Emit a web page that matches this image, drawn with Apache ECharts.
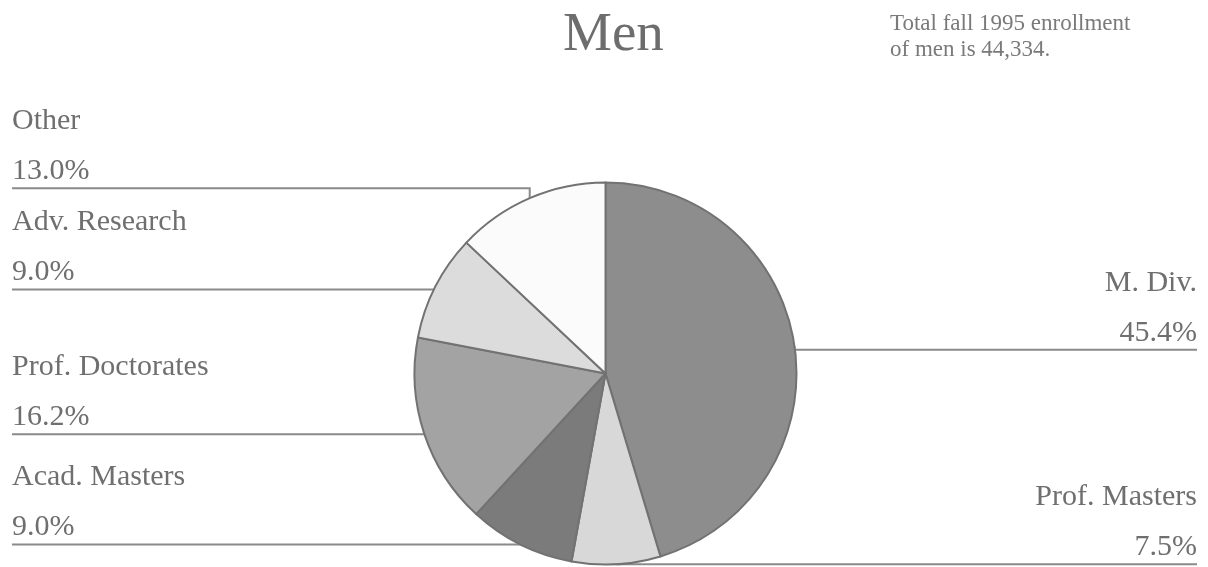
<!DOCTYPE html>
<html><head><meta charset="utf-8">
<script src="https://cdn.jsdelivr.net/npm/echarts@6/dist/echarts.min.js"></script>
<style>html,body{margin:0;padding:0;background:#fff}#c{width:1208px;height:567px}</style>
</head><body><div id="c"></div>
<script>
// ---- data ----
const categories = ['M. Div.', 'Prof. Masters', 'Acad. Masters', 'Prof. Doctorates', 'Adv. Research', 'Other'];
const shares = [45.4, 7.5, 9.0, 16.2, 9.0, 13.0];
const titleText = 'Men';
const noteLines = ['Total fall 1995 enrollment', 'of men is 44,334.'];

// ---- styles ----
const sliceColors = ['#8d8d8d', '#d8d8d8', '#7b7b7b', '#a3a3a3', '#dcdcdc', '#fbfbfb'];
const leaderShift = [4, 0, 0, 1, 3, -10];
const serif = '"Liberation Serif", "DejaVu Serif", serif';
const textColor = '#6f6f6f';
const lineColor = '#8a8a8a';

const chart = echarts.init(document.getElementById('c'));
const W = chart.getWidth();
const CX = 605.5, CY = 373.5;

const data = categories.map((name, i) => ({
  name: name,
  value: shares[i],
  itemStyle: { color: sliceColors[i] }
}));

chart.setOption({
  animation: false,
  backgroundColor: '#ffffff',
  title: [
    {
      text: titleText,
      left: 558, top: 3,
      textStyle: { fontFamily: serif, fontSize: 55, fontWeight: 'normal', color: '#6d6d6d' }
    },
    {
      text: noteLines.join('\n'),
      left: 885, top: 6,
      textStyle: { fontFamily: serif, fontSize: 23, lineHeight: 26, fontWeight: 'normal', color: '#7a7a7a' }
    }
  ],
  series: [{
    type: 'pie',
    center: [CX, CY],
    radius: 191,
    startAngle: 90,
    clockwise: true,
    silent: true,
    avoidLabelOverlap: false,
    data: data,
    itemStyle: { borderColor: '#727272', borderWidth: 2 },
    emphasis: { disabled: true },
    label: {
      show: true,
      position: 'outside',
      formatter: p => '{n|' + p.name + '}\n{p|' + p.value.toFixed(1) + '%}',
      rich: {
        n: { fontFamily: serif, fontSize: 30, lineHeight: 50, color: textColor },
        p: { fontFamily: serif, fontSize: 30, lineHeight: 50, color: textColor }
      }
    },
    labelLine: {
      show: true, length: 5, length2: 5, smooth: false,
      lineStyle: { color: lineColor, width: 2 }
    },
    labelLayout: function (params) {
      const pts = params.labelLinePoints;
      const p0 = pts[0];
      const i = params.dataIndex;
      const lineY = p0[1] + leaderShift[i];
      const isLeft = p0[0] < CX;
      const edgeX = isLeft ? 12 : W - 11;
      return {
        x: edgeX,
        y: lineY + 8,
        align: isLeft ? 'left' : 'right',
        verticalAlign: 'bottom',
        labelLinePoints: [[p0[0], p0[1]], [p0[0], lineY], [edgeX, lineY]]
      };
    }
  }]
});
</script>
</body></html>
